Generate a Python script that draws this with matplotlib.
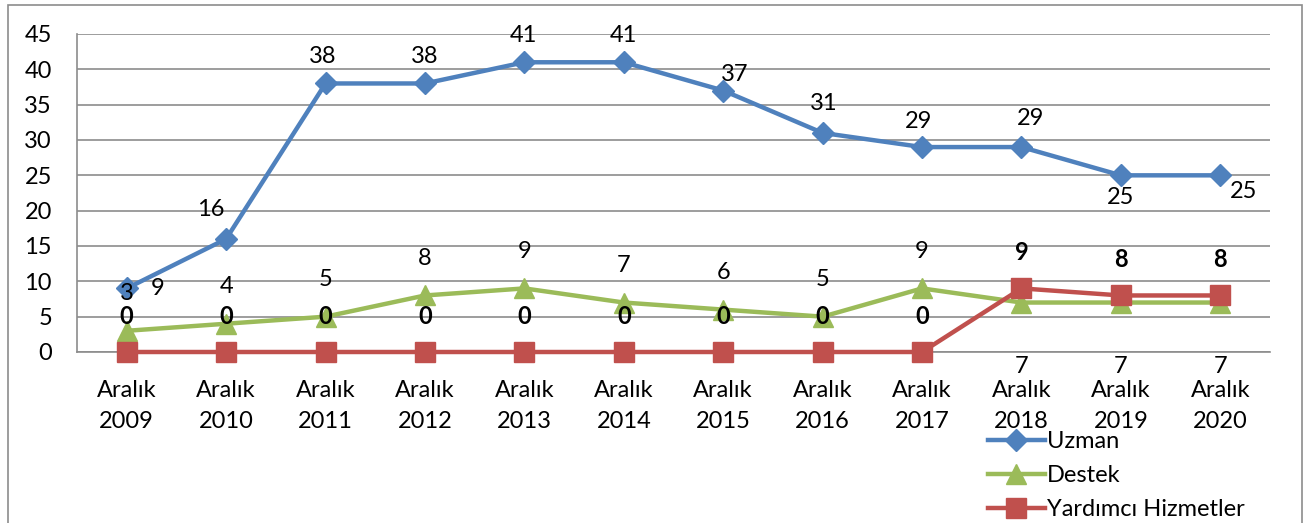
import matplotlib
matplotlib.use("Agg")
import matplotlib.pyplot as plt
from matplotlib.patches import Rectangle

plt.rcParams['font.family'] = ['Lato', 'DejaVu Sans']

categories = ["Aralık\n2009", "Aralık\n2010", "Aralık\n2011", "Aralık\n2012", "Aralık\n2013",
              "Aralık\n2014", "Aralık\n2015", "Aralık\n2016", "Aralık\n2017", "Aralık\n2018",
              "Aralık\n2019", "Aralık\n2020"]
uzman = [9, 16, 38, 38, 41, 41, 37, 31, 29, 29, 25, 25]
destek = [3, 4, 5, 8, 9, 7, 6, 5, 9, 7, 7, 7]
yardimci = [0, 0, 0, 0, 0, 0, 0, 0, 0, 9, 8, 8]
yticks = [0, 5, 10, 15, 20, 25, 30, 35, 40, 45]

BLUE = "#4F81BD"
GREEN = "#9BBB59"
RED = "#C0504D"
GRID = "#8C8C8C"
FS = 17

fig = plt.figure(figsize=(13.1, 5.23), dpi=100)
fig.patches.append(Rectangle((8/1310, -0.1), (1302-8)/1310, 1.1 - 5/523, transform=fig.transFigure,
                             fill=False, edgecolor="#8C8C8C", linewidth=1.2))
ax = fig.add_axes([77/1310, (523-352)/523, (1270-77)/1310, (352-34)/523])

x = list(range(len(categories)))
ax.plot(x, uzman, color=BLUE, lw=3.2, marker="D", ms=11, label="Uzman", zorder=3, clip_on=False)
ax.plot(x, destek, color=GREEN, lw=3.2, marker="^", ms=15, label="Destek", zorder=3, clip_on=False)
ax.plot(x, yardimci, color=RED, lw=3.2, marker="s", ms=14, label="Yardımcı Hizmetler", zorder=4,
        clip_on=False)

ax.set_xlim(-0.5, len(categories) - 0.5)
ax.set_ylim(0, 45)
ax.set_yticks(yticks)
ax.set_xticks(x)
ax.set_xticklabels(categories, fontsize=FS, linespacing=1.6)
ax.tick_params(axis='y', labelsize=FS, length=0, pad=18)
ax.tick_params(axis='x', length=0, pad=20)
ax.grid(axis='y', color=GRID, lw=1.2)
ax.set_axisbelow(True)
for s in ["top", "right"]:
    ax.spines[s].set_visible(False)
for s in ["left", "bottom"]:
    ax.spines[s].set_color(GRID)
    ax.spines[s].set_linewidth(1.2)

px = 0.72  # points per pixel at 100 dpi
# Uzman label offsets (pixels)
u_off = [(31, 0), (-15, 29), (-3, 27), (0, 27), (-1, 27), (0, 27), (11, 16), (1, 29),
         (-3, 26), (9, 29), (0, -22), (23, -16)]
for i, v in enumerate(uzman):
    dx, dy = u_off[i]
    ax.annotate(str(v), (i, v), xytext=(dx*px, dy*px), textcoords="offset points",
                ha="center", va="center", fontsize=FS, zorder=6)
for i, v in enumerate(destek):
    dy = 37 if i < 9 else -64
    ax.annotate(str(v), (i, v), xytext=(0, dy*px), textcoords="offset points",
                ha="center", va="center", fontsize=FS, zorder=6)
for i, v in enumerate(yardimci):
    ax.annotate(str(v), (i, v), xytext=(0, 36*px), textcoords="offset points",
                ha="center", va="center", fontsize=FS, fontweight="bold", zorder=6)

fig.legend(loc="upper left", bbox_to_anchor=(988/1310, (523-431)/523), frameon=False,
           fontsize=FS, handlelength=2.4, handletextpad=0.1, labelspacing=0.55,
           borderaxespad=0, borderpad=0)

fig.savefig("out.png", dpi=100)
